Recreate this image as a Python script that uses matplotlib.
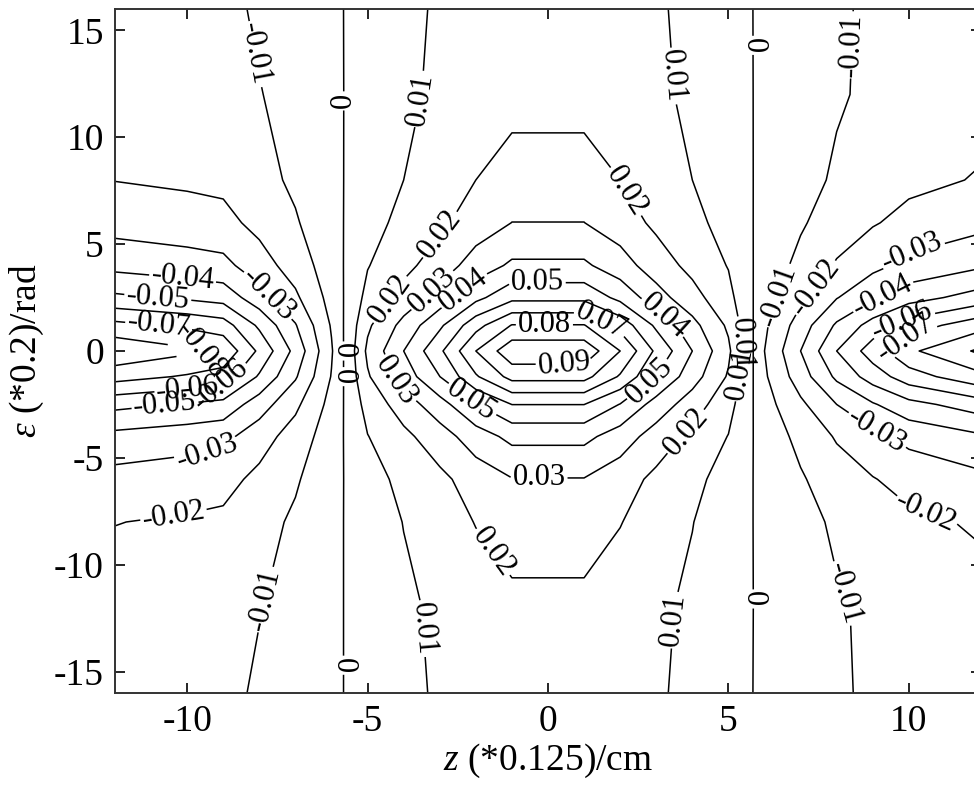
import numpy as np
import matplotlib.pyplot as plt

plt.rcParams['font.family'] = ['Liberation Serif', 'DejaVu Serif']
plt.rcParams['mathtext.fontset'] = 'custom'
plt.rcParams['mathtext.it'] = 'Liberation Serif:italic'
plt.rcParams['mathtext.rm'] = 'Liberation Serif'
plt.rcParams['axes.unicode_minus'] = False

# grid (z columns, theta rows)
z = [-12, -10, -9, -8, -7, -6, -5, -4, -3, -2, -1, 1, 2, 3, 4, 5, 6, 7, 8, 9, 10, 12]
theta = [-16, -12, -8, -6, -4, -2.5, -1.2, 0, 1.2, 2.5, 4, 6, 8, 12, 16]

# field values, in units of 0.001
field = [
    [-14.5, -13.5, -12.9, -8.5, -6.1, -1.8, 3.6, 8.0, 11.0, 13.2, 16.0, 16.0, 13.2, 11.0, 8.0, 3.6, -1.7, -5.0, -8.3, -12.0, -12.9, -15.2],
    [-15.8, -14.8, -14.0, -10.4, -6.7, -2.0, 4.0, 8.5, 11.5, 14.4, 17.5, 17.5, 14.4, 11.5, 8.5, 4.0, -1.8, -5.4, -9.0, -11.7, -14.0, -16.6],
    [-20.2, -18.9, -17.9, -13.3, -8.5, -2.8, 5.6, 10.2, 14.8, 20.4, 24.7, 24.7, 20.4, 14.8, 10.2, 5.6, -2.6, -6.9, -11.5, -15.0, -17.9, -21.2],
    [-26.4, -24.6, -23.4, -17.4, -11.1, -3.4, 6.7, 12.2, 17.7, 24.4, 29.6, 29.6, 24.4, 17.7, 12.2, 6.7, -3.1, -9.0, -15.0, -19.5, -23.4, -27.6],
    [-37.0, -34.4, -32.8, -24.4, -15.5, -4.8, 9.7, 17.6, 25.5, 35.2, 42.7, 42.7, 35.2, 25.5, 17.6, 9.7, -4.4, -12.6, -21.0, -27.3, -32.8, -38.6],
    [-52.8, -49.2, -46.8, -34.8, -22.2, -6.8, 13.6, 24.8, 36.0, 49.6, 60.1, 60.1, 49.6, 36.0, 24.8, 13.6, -6.2, -18.0, -30.0, -39.0, -46.8, -55.2],
    [-73.9, -68.9, -65.5, -48.7, -31.1, -9.5, 18.9, 34.4, 49.9, 68.8, 83.4, 83.4, 68.8, 49.9, 34.4, 18.9, -8.6, -25.2, -42.0, -54.6, -65.5, -77.3],
    [-88.0, -82.0, -78.0, -58.0, -37.0, -11.0, 22.0, 40.0, 58.0, 80.0, 97.0, 97.0, 80.0, 58.0, 40.0, 22.0, -10.0, -30.0, -50.0, -65.0, -78.0, -92.0],
    [-73.0, -68.1, -64.7, -48.1, -30.7, -9.1, 18.3, 33.2, 48.1, 66.4, 80.5, 80.5, 66.4, 48.1, 33.2, 18.3, -8.3, -24.9, -41.5, -54.0, -64.7, -76.4],
    [-51.9, -48.4, -46.0, -34.2, -21.8, -6.5, 13.0, 23.6, 34.2, 47.2, 57.2, 57.2, 47.2, 34.2, 23.6, 13.0, -5.9, -17.7, -29.5, -38.4, -46.0, -54.3],
    [-37.0, -34.4, -32.8, -24.4, -15.5, -4.7, 9.5, 17.2, 24.9, 34.4, 41.7, 41.7, 34.4, 24.9, 17.2, 9.5, -4.3, -12.6, -21.0, -27.3, -32.8, -38.6],
    [-26.0, -24.2, -23.0, -17.1, -10.9, -3.4, 6.8, 12.4, 18.0, 24.8, 30.1, 30.1, 24.8, 18.0, 12.4, 6.8, -3.1, -8.9, -14.8, -19.2, -23.0, -27.1],
    [-19.8, -18.5, -17.6, -13.1, -8.3, -2.8, 5.5, 10.0, 14.5, 20.0, 24.3, 24.3, 20.0, 14.5, 10.0, 5.5, -2.5, -6.8, -11.3, -14.6, -17.6, -20.7],
    [-15.8, -14.8, -14.0, -10.4, -6.7, -1.9, 3.7, 8.5, 11.5, 13.6, 16.5, 16.5, 13.6, 11.5, 8.5, 3.7, -1.7, -5.4, -9.0, -11.7, -14.0, -16.6],
    [-14.5, -13.5, -12.9, -8.5, -6.1, -1.8, 3.6, 8.0, 11.0, 13.2, 16.0, 16.0, 13.2, 11.0, 8.0, 3.6, -1.7, -5.0, -8.3, -12.0, -12.9, -15.2],
]

levels = [-0.09, -0.08, -0.07, -0.06, -0.05, -0.04, -0.03, -0.02, -0.01, 0,
          0.01, 0.02, 0.03, 0.04, 0.05, 0.06, 0.07, 0.08, 0.09]

# where the labels sit in the reference (z, theta)
label_spots = [
    (-8.4, 13.8), (-5.8, 11.7), (-3.3, 11.7), (3.8, 12.9), (5.8, 14.3), (8.75, 14.3),
    (2.0, 7.3), (-3.1, 5.6), (-4.2, 2.2), (-3.3, 3.0), (-0.3, 3.7), (-2.2, 2.6),
    (1.4, 1.2), (-0.1, 0.9), (0.45, -0.3), (-2.2, -2.5), (-4.0, -1.1), (-0.25, -5.9),
    (-1.6, -9.5), (3.35, 1.9), (2.9, -1.6), (3.9, -3.9),
    (-10.1, 3.9), (-10.8, 2.85), (-7.6, 2.85), (-10.8, 1.0), (-9.6, 0.2), (-10.0, -1.5),
    (-9.1, -1.6), (-10.6, -2.75), (-9.5, -4.2), (-10.4, -7.4), (-7.9, -11.6),
    (-5.8, -14.7), (-3.6, -13.0), (3.6, -12.6), (5.9, -11.6), (7.8, -11.6),
    (10.4, -7.9), (9.0, -4.2), (7.5, 2.85), (6.7, 2.4), (10.2, 4.0),
    (9.3, 2.5), (9.8, 1.5), (10.0, 0.4), (-5.7, 0.0), (-5.6, -1.2), (5.4, 0.3), (5.4, -0.9),
]

Z, T = np.meshgrid(z, theta)
F = np.array(field) / 1000.0

fig = plt.figure(figsize=(9.74, 7.86), dpi=100)
ax = fig.add_axes([115 / 974, 93 / 786, 866 / 974, 684 / 786])

cs = ax.contour(Z, T, F, levels=levels, colors='black', linewidths=1.1,
                linestyles='solid')
ax.clabel(cs, fmt=lambda v: '%g' % round(v, 2), fontsize=22, inline=True,
          inline_spacing=2, manual=label_spots)

ax.set_xlim(-12, 12)
ax.set_ylim(-16, 16)
ax.set_xticks([-10, -5, 0, 5, 10])
ax.set_yticks([-15, -10, -5, 0, 5, 10, 15])
ax.tick_params(direction='in', length=7, width=1.2, labelsize=27,
               top=True, right=True, pad=8)
for s in ax.spines.values():
    s.set_linewidth(1.4)
    s.set_color('#333333')

ax.set_xlabel(r'$z$ (*0.125)/cm', fontsize=27, labelpad=2)
ax.set_ylabel(r'$\varepsilon$ (*0.2)/rad', fontsize=27, labelpad=6)

fig.savefig('out.png', dpi=100)
